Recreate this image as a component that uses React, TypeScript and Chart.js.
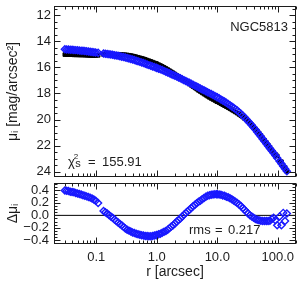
import React, { useEffect, useRef } from 'react';
import { Chart, registerables } from 'chart.js';

Chart.register(...registerables);

// ---------------- data ----------------
// radius [arcsec]
const radius = [
  // inner segment
  0.0302, 0.03236, 0.03467, 0.03715, 0.03981, 0.04266, 0.04571, 0.04898, 0.05248, 0.05623,
  0.06026, 0.06457, 0.06918, 0.07413, 0.07943, 0.08511, 0.0912, 0.09772, 0.1072,
  // 0.13 - 1
  0.1318, 0.1413, 0.1514, 0.1622, 0.1738, 0.1862, 0.1995, 0.2138, 0.2291, 0.2455,
  0.263, 0.2818, 0.302, 0.3236, 0.3467, 0.3715, 0.3981, 0.4266, 0.4571, 0.4898,
  0.5248, 0.5623, 0.6026, 0.6457, 0.6918, 0.7413, 0.7943, 0.8511, 0.912, 0.9772,
  // 1 - 10
  1.0, 1.072, 1.148, 1.23, 1.318, 1.413, 1.514, 1.622, 1.738, 1.862,
  1.995, 2.138, 2.291, 2.455, 2.63, 2.818, 3.02, 3.236, 3.467, 3.715,
  3.981, 4.266, 4.571, 4.898, 5.248, 5.623, 6.026, 6.457, 6.918, 7.413,
  7.943, 8.511, 9.12, 9.772,
  // 10 - 100
  10.0, 10.72, 11.48, 12.3, 13.18, 14.13, 15.14, 16.22, 17.38, 18.62,
  19.95, 21.38, 22.91, 24.55, 26.3, 28.18, 30.2, 32.36, 34.67, 37.15,
  39.81, 42.66, 45.71, 48.98, 52.48, 56.23, 60.26, 64.57, 69.18, 74.13,
  79.43, 85.11, 91.2, 97.72,
  // outermost
  107.2, 114.8, 123.0, 131.8, 141.3,
];

// observed surface brightness (black)
const muObserved = [
  15.02, 15.02, 15.025, 15.025, 15.03, 15.04, 15.04, 15.045, 15.05, 15.055,
  15.055, 15.065, 15.07, 15.08, 15.085, 15.09, 15.095, 15.09, 15.08,
  15.015, 15.01, 15.01, 15.005, 15.0, 15.0, 15.0, 15.0, 15.005, 15.01,
  15.02, 15.03, 15.04, 15.055, 15.075, 15.1, 15.125, 15.155, 15.195, 15.23,
  15.27, 15.305, 15.345, 15.395, 15.45, 15.495, 15.545, 15.6, 15.655, 15.71,
  15.73, 15.795, 15.86, 15.93, 16.005, 16.085, 16.17, 16.255, 16.34, 16.42,
  16.515, 16.61, 16.7, 16.79, 16.89, 16.99, 17.09, 17.18, 17.275, 17.375,
  17.475, 17.57, 17.665, 17.765, 17.85, 17.95, 18.04, 18.13, 18.215, 18.3,
  18.38, 18.455, 18.53, 18.605,
  18.63, 18.705, 18.785, 18.86, 18.935, 19.01, 19.09, 19.17, 19.255, 19.335,
  19.42, 19.51, 19.605, 19.705, 19.805, 19.915, 20.03, 20.15, 20.275, 20.415,
  20.56, 20.71, 20.875, 21.04, 21.215, 21.395, 21.58, 21.76, 21.94, 22.125,
  22.325, 22.52, 22.67, 22.785,
  23.18, 23.23, 23.62, 23.67, 23.985,
];

// model surface brightness (blue diamonds)
const muModel = [
  14.62, 14.625, 14.635, 14.645, 14.655, 14.67, 14.68, 14.695, 14.705, 14.72,
  14.73, 14.75, 14.765, 14.785, 14.8, 14.82, 14.84, 14.855, 14.88,
  14.945, 14.96, 14.98, 15.0, 15.02, 15.04, 15.065, 15.09, 15.12, 15.15,
  15.18, 15.215, 15.25, 15.285, 15.32, 15.36, 15.4, 15.44, 15.49, 15.535,
  15.58, 15.625, 15.67, 15.725, 15.78, 15.83, 15.88, 15.93, 15.98, 16.03,
  16.045, 16.1, 16.155, 16.21, 16.27, 16.335, 16.4, 16.46, 16.52, 16.58,
  16.645, 16.71, 16.775, 16.84, 16.91, 16.98, 17.05, 17.115, 17.185, 17.255,
  17.33, 17.4, 17.47, 17.545, 17.615, 17.69, 17.76, 17.83, 17.9, 17.975,
  18.05, 18.12, 18.19, 18.265,
  18.29, 18.37, 18.455, 18.54, 18.62, 18.71, 18.8, 18.895, 18.995, 19.095,
  19.2, 19.31, 19.43, 19.555, 19.685, 19.825, 19.97, 20.12, 20.275, 20.435,
  20.6, 20.77, 20.945, 21.12, 21.3, 21.485, 21.67, 21.85, 22.03, 22.21,
  22.385, 22.56, 22.75, 22.945,
  23.2, 23.39, 23.58, 23.76, 23.955,
];

// residuals (lower panel)
const deltaMu = [
  0.4, 0.395, 0.39, 0.38, 0.375, 0.37, 0.36, 0.35, 0.345, 0.335,
  0.325, 0.315, 0.305, 0.295, 0.285, 0.27, 0.255, 0.235, 0.2,
  0.07, 0.05, 0.03, 0.005, -0.02, -0.04, -0.065, -0.09, -0.115, -0.14,
  -0.16, -0.185, -0.21, -0.23, -0.245, -0.26, -0.275, -0.285, -0.295, -0.305,
  -0.31, -0.32, -0.325, -0.33, -0.33, -0.335, -0.335, -0.33, -0.325, -0.32,
  -0.315, -0.305, -0.295, -0.28, -0.265, -0.25, -0.23, -0.205, -0.18, -0.16,
  -0.13, -0.1, -0.075, -0.05, -0.02, 0.01, 0.04, 0.065, 0.09, 0.12,
  0.145, 0.17, 0.195, 0.22, 0.235, 0.26, 0.28, 0.3, 0.315, 0.325,
  0.33, 0.335, 0.34, 0.34,
  0.34, 0.335, 0.33, 0.32, 0.315, 0.3, 0.29, 0.275, 0.26, 0.24,
  0.22, 0.2, 0.175, 0.15, 0.12, 0.09, 0.06, 0.03, 0.0, -0.02,
  -0.04, -0.06, -0.07, -0.08, -0.085, -0.09, -0.09, -0.09, -0.09, -0.085,
  -0.06, -0.04, -0.08, -0.16,
  -0.02, -0.16, 0.04, -0.09, 0.03,
];

const xRange = [0.02, 200];
const xTickValues = [0.1, 1, 10, 100];
const xTickLabels = ['0.1', '1.0', '10.0', '100.0'];
const muRange = [11.3, 24.4];
const muTicks = [12, 14, 16, 18, 20, 22, 24];
const deltaRange = [-0.46, 0.52];
const deltaTicks = [-0.4, -0.2, 0.0, 0.2, 0.4];
const galaxyName = 'NGC5813';
const chi2Value = '155.91';
const rmsValue = '0.217';

// ---------------- style ----------------
const FONT = "'Liberation Sans', Arial, Helvetica, sans-serif";
const INK = '#1c1c1c';
const BLUE = 'rgb(25,25,255)';

function makeFrame(yMajorStep: number, yMinorStep: number) {
  return {
    id: 'frame',
    afterDraw(chart: any) {
      const { ctx, chartArea: a } = chart;
      const xs = chart.scales.x;
      const ys = chart.scales.y;
      const L = Math.round(a.left) + 0.5;
      const R = Math.round(a.right) - 0.5;
      const T = Math.round(a.top) + 0.5;
      const B = Math.round(a.bottom) - 0.5;
      ctx.save();
      ctx.strokeStyle = INK;
      ctx.lineWidth = 1;
      ctx.beginPath();
      const lo = Math.floor(Math.log10(xs.min));
      const hi = Math.ceil(Math.log10(xs.max));
      for (let e = lo; e <= hi; e++) {
        for (let k = 1; k <= 9; k++) {
          const v = k * Math.pow(10, e);
          if (v < xs.min || v > xs.max) continue;
          const px = Math.round(xs.getPixelForValue(v)) + 0.5;
          const len = k === 1 ? 6 : 3;
          ctx.moveTo(px, B);
          ctx.lineTo(px, B - len);
          ctx.moveTo(px, T);
          ctx.lineTo(px, T + len);
        }
      }
      const ymin = Math.min(ys.min, ys.max);
      const ymax = Math.max(ys.min, ys.max);
      const n0 = Math.ceil(ymin / yMinorStep - 1e-6);
      const n1 = Math.floor(ymax / yMinorStep + 1e-6);
      for (let n = n0; n <= n1; n++) {
        const v = n * yMinorStep;
        const r = v / yMajorStep;
        const major = Math.abs(r - Math.round(r)) < 1e-6;
        const py = Math.round(ys.getPixelForValue(v)) + 0.5;
        const len = major ? 6 : 3;
        ctx.moveTo(L, py);
        ctx.lineTo(L + len, py);
        ctx.moveTo(R, py);
        ctx.lineTo(R - len, py);
      }
      ctx.stroke();
      ctx.strokeRect(L, T, R - L, B - T);
      ctx.restore();
    },
  };
}

const upperText = {
  id: 'upperText',
  afterDraw(chart: any) {
    const { ctx, chartArea: a } = chart;
    ctx.save();
    ctx.fillStyle = INK;
    ctx.textBaseline = 'middle';
    ctx.font = `13px ${FONT}`;
    ctx.textAlign = 'right';
    ctx.fillText(galaxyName, a.right - 8, a.top + 21);
    ctx.textAlign = 'left';
    const x0 = a.left + 14;
    const y0 = a.bottom - 15;
    ctx.fillText('χ', x0, y0);
    const w = ctx.measureText('χ').width;
    ctx.font = `8px ${FONT}`;
    ctx.fillText('2', x0 + w - 1, y0 - 5);
    ctx.font = `11px ${FONT}`;
    ctx.fillText('s', x0 + w + 0.5, y0 + 2);
    ctx.font = `13px ${FONT}`;
    ctx.fillText('=', x0 + 20, y0);
    ctx.fillText(chi2Value, x0 + 34, y0);
    ctx.restore();
  },
};

const lowerText = {
  id: 'lowerText',
  afterDraw(chart: any) {
    const { ctx, chartArea: a } = chart;
    ctx.save();
    ctx.fillStyle = INK;
    ctx.textBaseline = 'middle';
    ctx.textAlign = 'left';
    ctx.font = `13px ${FONT}`;
    const x0 = a.left + 135;
    const y0 = a.bottom - 13.5;
    ctx.fillText('rms', x0, y0);
    ctx.fillText('=', x0 + 26, y0);
    ctx.fillText(rmsValue, x0 + 39, y0);
    ctx.restore();
  },
};

function fixWidth(width: number) {
  return (s: any) => {
    s.width = width;
    s.paddingTop = 0;
    s.paddingBottom = 0;
    s.paddingLeft = 0;
    s.paddingRight = 0;
  };
}

function fixHeight(height: number) {
  return (s: any) => {
    s.height = height;
    s.paddingTop = 0;
    s.paddingBottom = 0;
    s.paddingLeft = 0;
    s.paddingRight = 0;
  };
}

const tickFont = { family: FONT, size: 13 };
const titleFont = { family: FONT, size: 14 };

export default function App() {
  const topRef = useRef<HTMLCanvasElement | null>(null);
  const botRef = useRef<HTMLCanvasElement | null>(null);

  useEffect(() => {
    const observed = radius.map((r, i) => ({ x: r, y: muObserved[i] }));
    const model = radius.map((r, i) => ({ x: r, y: muModel[i] }));
    const resid = radius.map((r, i) => ({ x: r, y: deltaMu[i] }));

    const top = new Chart(topRef.current as HTMLCanvasElement, {
      type: 'scatter',
      data: {
        datasets: [
          {
            data: model,
            order: 1,
            pointStyle: 'rectRot',
            pointRadius: 3.5,
            borderColor: BLUE,
            backgroundColor: 'rgba(0,0,0,0)',
            borderWidth: 1.4,
          },
          {
            data: observed,
            order: 2,
            pointStyle: 'rect',
            pointRadius: 2.6,
            borderColor: '#000',
            backgroundColor: '#000',
            borderWidth: 1,
          },
        ],
      },
      options: {
        responsive: false,
        animation: false,
        devicePixelRatio: 1,
        events: [],
        layout: { autoPadding: false, padding: { left: 0, right: 4, top: 6, bottom: 3 } },
        plugins: { legend: { display: false }, tooltip: { enabled: false } },
        scales: {
          x: {
            type: 'logarithmic',
            display: false,
            min: xRange[0],
            max: xRange[1],
          },
          y: {
            type: 'linear',
            reverse: true,
            min: muRange[0],
            max: muRange[1],
            afterBuildTicks: (s: any) => {
              s.ticks = muTicks.map((v) => ({ value: v }));
            },
            afterFit: fixWidth(54),
            grid: { display: false, drawTicks: false },
            border: { display: false },
            ticks: {
              font: tickFont,
              color: INK,
              padding: 3,
              autoSkip: false,
              callback: (v: any) => String(v),
            },
            title: {
              display: true,
              text: 'μᵢ [mag/arcsec²]',
              font: titleFont,
              color: INK,
              padding: { top: 5, bottom: 0 },
            },
          },
        },
      },
      plugins: [makeFrame(2, 0.5), upperText],
    } as any);

    const bot = new Chart(botRef.current as HTMLCanvasElement, {
      type: 'scatter',
      data: {
        datasets: [
          {
            data: resid,
            order: 1,
            pointStyle: 'rectRot',
            pointRadius: 3.5,
            borderColor: BLUE,
            backgroundColor: 'rgba(0,0,0,0)',
            borderWidth: 1.4,
          },
          {
            data: [
              { x: xRange[0], y: 0 },
              { x: xRange[1], y: 0 },
            ],
            order: 2,
            showLine: true,
            pointRadius: 0,
            borderColor: '#000',
            borderWidth: 1,
          },
        ],
      },
      options: {
        responsive: false,
        animation: false,
        devicePixelRatio: 1,
        events: [],
        layout: { autoPadding: false, padding: { left: 0, right: 4, top: 3, bottom: 0 } },
        plugins: { legend: { display: false }, tooltip: { enabled: false } },
        scales: {
          x: {
            type: 'logarithmic',
            min: xRange[0],
            max: xRange[1],
            afterBuildTicks: (s: any) => {
              s.ticks = xTickValues.map((v) => ({ value: v }));
            },
            afterFit: fixHeight(41),
            grid: { display: false, drawTicks: false },
            border: { display: false },
            ticks: {
              font: tickFont,
              color: INK,
              padding: 6,
              maxRotation: 0,
              autoSkip: false,
              callback: (v: any) => {
                const i = xTickValues.indexOf(Number(v));
                return i >= 0 ? xTickLabels[i] : '';
              },
            },
            title: {
              display: true,
              text: 'r [arcsec]',
              font: titleFont,
              color: INK,
              padding: { top: 0, bottom: 4 },
            },
          },
          y: {
            type: 'linear',
            min: deltaRange[0],
            max: deltaRange[1],
            afterBuildTicks: (s: any) => {
              s.ticks = deltaTicks.map((v) => ({ value: v }));
            },
            afterFit: fixWidth(54),
            grid: { display: false, drawTicks: false },
            border: { display: false },
            ticks: {
              font: tickFont,
              color: INK,
              padding: 5,
              autoSkip: false,
              callback: (v: any) => Number(v).toFixed(1).replace('-', '−'),
            },
            title: {
              display: true,
              text: 'Δμᵢ',
              font: titleFont,
              color: INK,
              padding: { top: 5, bottom: 0 },
            },
          },
        },
      },
      plugins: [makeFrame(0.2, 0.05), lowerText],
    } as any);

    return () => {
      top.destroy();
      bot.destroy();
    };
  }, []);

  return (
    <div style={{ position: 'fixed', left: 0, top: 0, width: 300, height: 285, background: '#fff' }}>
      <canvas
        ref={topRef}
        width={300}
        height={180}
        style={{ position: 'absolute', left: 0, top: 0, width: 300, height: 180, display: 'block' }}
      />
      <canvas
        ref={botRef}
        width={300}
        height={105}
        style={{ position: 'absolute', left: 0, top: 180, width: 300, height: 105, display: 'block' }}
      />
    </div>
  );
}
